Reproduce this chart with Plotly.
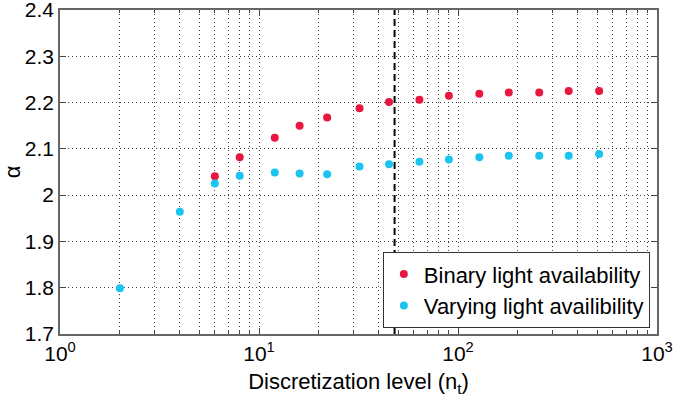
import plotly.graph_objects as go

# discretization levels (n_t) and alpha estimates
nt_binary = [6, 8, 12, 16, 22, 32, 45, 64, 90, 128, 180, 256, 360, 512]
alpha_binary = [2.041, 2.082, 2.124, 2.150, 2.168, 2.188, 2.201, 2.206, 2.215,
                2.219, 2.222, 2.222, 2.225, 2.225]

nt_varying = [2, 4, 6, 8, 12, 16, 22, 32, 45, 64, 90, 128, 180, 256, 360, 512]
alpha_varying = [1.799, 1.964, 2.025, 2.042, 2.049, 2.047, 2.045, 2.062, 2.067,
                 2.072, 2.077, 2.082, 2.085, 2.085, 2.085, 2.089]

nt_threshold = 48

x_tickvals = [1, 10, 100, 1000]
x_ticktext = ["10<sup>0</sup>", "10<sup>1</sup>", "10<sup>2</sup>", "10<sup>3</sup>"]
x_minor = [m * 10 ** k for k in range(3) for m in range(2, 10)]

y_tickvals = [1.7, 1.8, 1.9, 2.0, 2.1, 2.2, 2.3, 2.4]
y_ticktext = ["1.7", "1.8", "1.9", "2", "2.1", "2.2", "2.3", "2.4"]

fig = go.Figure()

fig.add_trace(go.Scatter(x=nt_binary, y=alpha_binary, mode="markers",
                         name="Binary light availability",
                         marker=dict(color="#e8173f", size=8)))
fig.add_trace(go.Scatter(x=nt_varying, y=alpha_varying, mode="markers",
                         name="Varying light availibility",
                         marker=dict(color="#1bc3ef", size=8)))

fig.add_vline(x=nt_threshold, line=dict(color="black", width=2, dash="7px,4px"))

grid_col = "#444444"
dots = "1px,3px"
fig.update_xaxes(type="log", range=[0, 3], automargin=False,
                 ticklabeloverflow="allow",
                 tickvals=x_tickvals, ticktext=x_ticktext,
                 ticks="inside", ticklen=6, tickcolor="#444",
                 showgrid=True, gridcolor=grid_col, griddash=dots, gridwidth=1,
                 minor=dict(tickvals=x_minor, ticks="inside", ticklen=3,
                            tickcolor="#444", showgrid=True, gridcolor=grid_col,
                            griddash=dots, gridwidth=1),
                 showline=True, linecolor="#666", linewidth=1.5, mirror="ticks",
                 zeroline=False,
                 title=dict(text="Discretization level (n<sub>t</sub>)", standoff=10,
                            font=dict(size=22)),
                 tickfont=dict(size=21))
fig.update_yaxes(range=[1.7, 2.4], automargin=False,
                 ticklabeloverflow="allow",
                 tickvals=y_tickvals, ticktext=y_ticktext,
                 ticks="inside", ticklen=6, tickcolor="#444",
                 showgrid=True, gridcolor=grid_col, griddash=dots, gridwidth=1,
                 showline=True, linecolor="#666", linewidth=1.5, mirror="ticks",
                 zeroline=False,
                 title=dict(text="α", standoff=6, font=dict(size=22)),
                 tickfont=dict(size=21))

fig.update_layout(width=675, height=407,
                  margin=dict(l=60, r=18, t=10, b=73),
                  plot_bgcolor="white", paper_bgcolor="white",
                  font=dict(family="Liberation Sans, Arial", size=21, color="black"),
                  legend=dict(x=0.988, y=0.018, xanchor="right", yanchor="bottom",
                              bgcolor="white", bordercolor="#333", borderwidth=1,
                              font=dict(size=22), tracegroupgap=0,
                              itemwidth=30))

# drop the default 8px page margin so the figure sits at the window corner
fig.write_html("out.html", config={"displayModeBar": False},
               post_script="document.body.style.margin='0px';")
